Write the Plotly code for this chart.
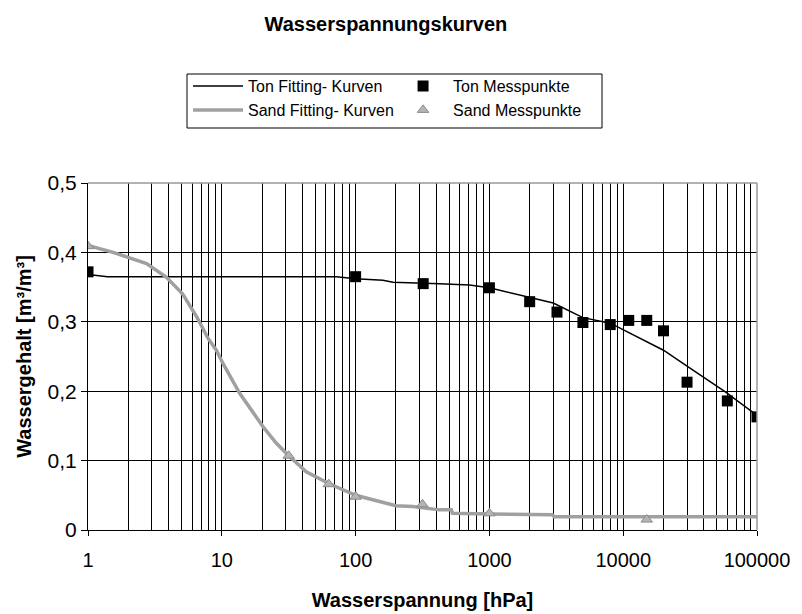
import plotly.graph_objects as go

# Measured points
ton_p = [1, 100, 320, 1000, 2000, 3200, 5000, 8000, 11000, 15000, 20000, 30000, 60000, 100000]
ton_w = [0.372, 0.365, 0.355, 0.349, 0.329, 0.314, 0.299, 0.296, 0.302, 0.302, 0.287, 0.213, 0.186, 0.163]
sand_p = [1, 31.6, 63, 100, 316, 1000, 15000]
sand_w = [0.409, 0.107, 0.066, 0.048, 0.037, 0.024, 0.015]

# Fitted curves
ton_fit_p = [1, 1.4, 10, 72, 100, 160, 190, 316, 424, 710, 1000, 3000, 5000, 8000, 15000, 20000, 30000, 58000, 100000]
ton_fit_w = [0.368, 0.365, 0.365, 0.365, 0.362, 0.360, 0.357, 0.356, 0.355, 0.353, 0.349, 0.327, 0.306, 0.298, 0.272, 0.259, 0.236, 0.199, 0.165]
sand_fit_p = [1, 1.54, 2.74, 3.86, 5.1, 6.5, 7.9, 9.1, 10.2, 13.6, 20.3, 25.6, 31.6, 42.8, 63, 100, 151, 200, 267, 424, 520, 530, 1000, 2950, 3050, 100000]
sand_fit_w = [0.410, 0.400, 0.384, 0.364, 0.340, 0.307, 0.276, 0.259, 0.240, 0.197, 0.149, 0.125, 0.107, 0.084, 0.067, 0.050, 0.041, 0.035, 0.034, 0.029, 0.029, 0.024, 0.023, 0.022, 0.019, 0.019]

x_ticks = [1, 10, 100, 1000, 10000, 100000]
x_labels = ["1", "10", "100", "1000", "10000", "100000"]
y_ticks = [0, 0.1, 0.2, 0.3, 0.4, 0.5]
y_labels = ["0", "0,1", "0,2", "0,3", "0,4", "0,5"]

minor_x = [k * 10 ** d for d in range(5) for k in range(2, 10)]

FONT = "Liberation Sans, Arial, sans-serif"

fig = go.Figure()
fig.add_trace(go.Scatter(x=ton_fit_p, y=ton_fit_w, mode="lines", name="Ton Fitting- Kurven",
                         line=dict(color="black", width=1.5), legend="legend"))
fig.add_trace(go.Scatter(x=sand_fit_p, y=sand_fit_w, mode="lines", name="Sand Fitting- Kurven",
                         line=dict(color="#a0a0a0", width=3.5), legend="legend"))
fig.add_trace(go.Scatter(x=ton_p, y=ton_w, mode="markers", name="Ton Messpunkte",
                         marker=dict(symbol="square", size=11, color="black"), legend="legend2"))
fig.add_trace(go.Scatter(x=sand_p, y=sand_w, mode="markers", name="Sand Messpunkte",
                         marker=dict(symbol="triangle-up", size=10, color="#b4b4b4",
                                     line=dict(color="#8a8a8a", width=1)), legend="legend2"))

fig.update_layout(
    width=794, height=606,
    margin=dict(l=80, r=45, t=175, b=84, autoexpand=False),
    paper_bgcolor="white", plot_bgcolor="white",
    font=dict(family=FONT, color="black", size=20),
    title=dict(text="<b>Wasserspannungskurven</b>", xref="container", x=0.476, xanchor="center",
               yref="container", y=0.973, yanchor="middle",
               font=dict(size=20, family=FONT)),
    showlegend=True,
    legend=dict(x=0.1495, y=1.328, xanchor="left", yanchor="top", bgcolor="rgba(0,0,0,0)",
                font=dict(size=16, family=FONT), tracegroupgap=0, itemwidth=50),
    legend2=dict(x=0.456, y=1.328, xanchor="left", yanchor="top", bgcolor="rgba(0,0,0,0)",
                 font=dict(size=16, family=FONT), tracegroupgap=0, itemwidth=50),
    xaxis=dict(type="log", range=[0, 5], tickvals=x_ticks, ticktext=x_labels,
               showgrid=True, gridcolor="black", gridwidth=1, automargin=False,
               minor=dict(tickvals=minor_x, showgrid=True, gridcolor="black", gridwidth=1, ticks=""),
               showline=True, linecolor="black", linewidth=1,
               ticks="outside", ticklen=5, tickcolor="black", ticklabelstandoff=7,
               tickfont=dict(size=20), zeroline=False,
               title=dict(text="<b>Wasserspannung [hPa]</b>", font=dict(size=20), standoff=22)),
    yaxis=dict(range=[0, 0.5], tickvals=y_ticks, ticktext=y_labels,
               showgrid=True, gridcolor="black", gridwidth=1, automargin=False,
               showline=True, linecolor="black", linewidth=1,
               ticks="outside", ticklen=6, tickcolor="black",
               tickfont=dict(size=21), zeroline=False,
               title=dict(text="<b>Wassergehalt [m³/m³]</b>", font=dict(size=20), standoff=10)),
)

# gray top/right frame and legend box
fig.add_shape(type="line", xref="x domain", yref="y domain", x0=0, x1=1, y0=1, y1=1,
              line=dict(color="#999999", width=1.5), layer="above")
fig.add_shape(type="line", xref="x domain", yref="y domain", x0=1, x1=1, y0=0, y1=1,
              line=dict(color="#999999", width=1.5), layer="above")
fig.add_shape(type="rect", xref="paper", yref="paper",
              x0=(187 - 88) / 669, x1=(602 - 88) / 669, y0=(530 - 128) / 347, y1=(530 - 74) / 347,
              line=dict(color="black", width=1), fillcolor="rgba(0,0,0,0)")

fig.write_html("out.html")
